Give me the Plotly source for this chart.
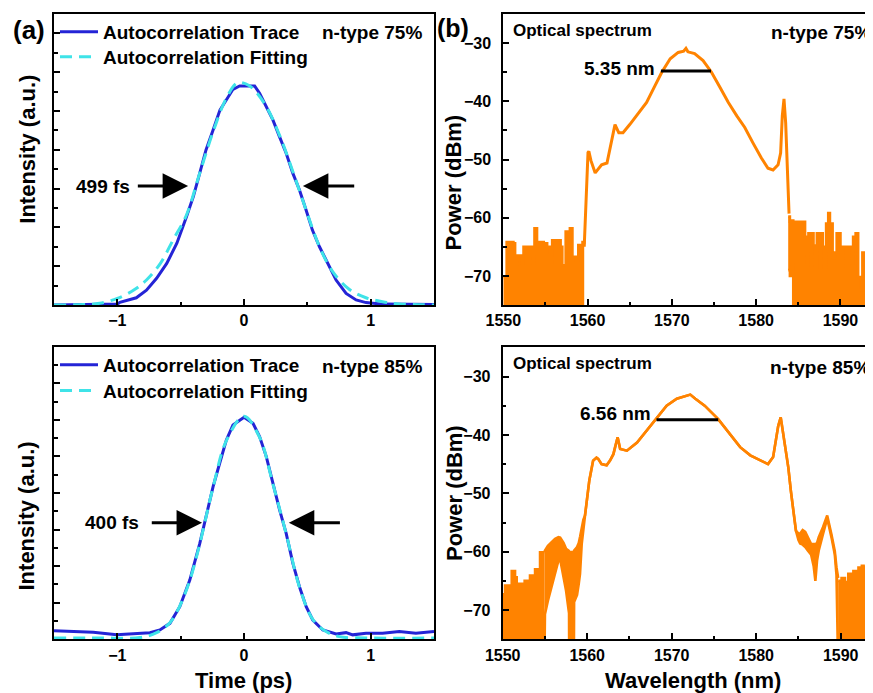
import plotly.graph_objects as go

# page offset: the html body adds an 8px margin around the figure
OFF = 8
W, H = 873 - OFF, 693 - OFF
FONT = "Liberation Sans, Arial, sans-serif"
BLUE = "#2424D6"
CYAN = "#3FE3E8"
ORANGE = "#FF8300"

# ---------------- Autocorrelation, n-type 75% ----------------
t_trace75 = [-1.5, -1.0, -0.98, -0.85, -0.77, -0.69, -0.61, -0.53, -0.454, -0.40, -0.35, -0.30,
             -0.244, -0.19, -0.14, -0.087, -0.034, 0.084, 0.123, 0.176, 0.228, 0.28, 0.333,
             0.386, 0.438, 0.49, 0.54, 0.596, 0.675, 0.727, 0.806, 0.885, 0.963, 1.094, 1.5]
i_trace75 = [0.0, 0.004, 0.012, 0.033, 0.068, 0.122, 0.19, 0.282, 0.403, 0.495, 0.601, 0.708,
             0.799, 0.89, 0.936, 0.985, 1.0, 1.0, 0.967, 0.906, 0.845, 0.769, 0.693,
             0.601, 0.525, 0.434, 0.342, 0.266, 0.175, 0.114, 0.053, 0.023, 0.011, 0.004, 0.002]
t_fit75 = [-1.5, -1.27, -1.14, -1.0, -0.87, -0.77, -0.66, -0.56, -0.454, -0.35, -0.244, -0.14,
           -0.052, 0.018, 0.07, 0.176, 0.28, 0.386, 0.49, 0.596, 0.70, 0.83, 0.963, 1.094,
           1.226, 1.5]
i_fit75 = [0.0, 0.002, 0.008, 0.03, 0.068, 0.114, 0.19, 0.297, 0.411, 0.601, 0.791, 0.944,
           1.015, 1.009, 0.989, 0.906, 0.776, 0.609, 0.434, 0.266, 0.152, 0.072, 0.033, 0.015,
           0.005, 0.0]

# ---------------- Autocorrelation, n-type 85% ----------------
t_trace85 = [-1.5, -1.35, -1.19, -1.005, -0.874, -0.743, -0.664, -0.585, -0.507, -0.428, -0.349,
             -0.297, -0.244, -0.192, -0.139, -0.087, 0.0, 0.071, 0.123, 0.176, 0.228, 0.281,
             0.333, 0.386, 0.438, 0.491, 0.543, 0.622, 0.727, 0.806, 0.858, 0.963, 1.094,
             1.226, 1.357, 1.5]
i_trace85 = [0.039, 0.035, 0.032, 0.021, 0.024, 0.030, 0.042, 0.072, 0.147, 0.267, 0.432,
             0.553, 0.688, 0.793, 0.898, 0.965, 1.0, 0.973, 0.913, 0.823, 0.703, 0.583,
             0.477, 0.342, 0.237, 0.147, 0.087, 0.042, 0.024, 0.030, 0.020, 0.027, 0.027,
             0.035, 0.027, 0.035]
t_fit85 = [-1.5, -1.136, -0.82, -0.69, -0.585, -0.507, -0.428, -0.349, -0.244, -0.139, 0.0,
           0.123, 0.228, 0.333, 0.438, 0.543, 0.648, 0.753, 0.963, 1.5]
i_fit85 = [0.006, 0.006, 0.008, 0.03, 0.075, 0.15, 0.265, 0.43, 0.685, 0.895, 1.005,
           0.91, 0.70, 0.475, 0.235, 0.09, 0.035, 0.012, 0.006, 0.006]

# ---------------- Optical spectrum, n-type 75% ----------------
NOISE_FLOOR = -80.0  # detector floor, below the visible axis range
wl_noiseL75 = [1550.0, 1550.4, 1551.2, 1551.4, 1551.6, 1552.1, 1552.2, 1552.4, 1553.4, 1553.5,
               1553.7, 1554.0, 1554.8, 1555.2, 1555.5, 1555.8, 1556.4, 1556.8, 1557.0, 1557.4,
               1557.9, 1558.2, 1558.6, 1558.9, 1559.4, 1559.6]
p_noiseL75 = [-70.2, -64.2, -64.4, -72.2, -66.5, -66.5, -67.9, -65.0, -65.0, -67.9,
              -61.8, -64.2, -64.4, -65.0, -67.9, -63.9, -63.9, -65.0, -68.2, -62.4,
              -61.8, -66.7, -67.3, -64.7, -64.2, -64.5]
wl_main75 = [1559.6, 1559.75, 1559.9, 1560.05, 1560.15, 1560.4, 1560.9, 1561.3, 1561.66, 1562.3,
             1562.85, 1563.25, 1563.7, 1564.2, 1565.0, 1566.0, 1567.0, 1568.0, 1568.8, 1569.8,
             1570.75, 1571.4, 1571.67, 1571.9, 1572.7, 1573.7, 1574.7, 1575.7, 1576.7, 1577.7,
             1578.65, 1579.6, 1580.6, 1581.4, 1582.0, 1582.6, 1582.9, 1583.1, 1583.3, 1583.5,
             1583.7, 1583.9]
p_main75 = [-65.0, -60.0, -52.0, -48.8, -48.6, -50.2, -52.3, -51.5, -50.9, -50.6,
            -46.6, -44.0, -45.4, -45.4, -44.0, -42.2, -40.2, -37.3, -35.0, -32.7,
            -31.6, -31.4, -30.9, -31.5, -31.8, -33.0, -35.0, -37.6, -40.2, -42.5,
            -44.5, -47.1, -49.7, -51.5, -51.8, -50.9, -48.9, -42.5, -39.6, -43.7,
            -51.2, -59.3]
wl_noiseR75 = [1583.8, 1584.0, 1584.2, 1584.4, 1584.6, 1585.8, 1586.0, 1586.2, 1586.4, 1586.8,
               1587.0, 1587.2, 1587.6, 1587.9, 1588.0, 1588.3, 1588.55, 1588.75, 1589.07, 1589.35,
               1589.55, 1589.74, 1590.0, 1590.3, 1590.9, 1591.3, 1591.5, 1591.8, 1592.1, 1592.4,
               1592.6, 1593.1, 1593.5, 1593.7, 1594.0]
p_noiseR75_hi = [-59.8, -60.7, -60.5, -60.7, -60.7, -63.3, -68.5, -62.7, -62.7, -64.8,
                 -68.5, -62.7, -62.7, -65.0, -68.5, -61.0, -59.2, -61.0, -67.0, -66.0,
                 -62.7, -62.7, -68.4, -65.0, -65.0, -68.0, -63.3, -62.7, -70.2, -72.5,
                 -66.0, -66.3, -71.3, -66.0, -66.0]
p_noiseR75_lo = [-69.0, -70.0, -68.0] + [NOISE_FLOOR] * 32
fwhm75_x = [1568.7, 1574.64]
fwhm75_y = [-34.8, -34.8]

# ---------------- Optical spectrum, n-type 85% ----------------
wl_noiseL85 = [1550.0, 1550.28, 1551.07, 1551.46, 1551.66, 1552.05, 1552.6, 1553.23, 1553.43,
               1553.83, 1554.02, 1554.42, 1554.62, 1554.93]
p_noiseL85 = [-67.3, -65.8, -63.3, -64.4, -65.5, -65.5, -65.0, -64.1, -64.1,
              -63.0, -63.0, -60.1, -60.1, -60.1]
wl_main85 = [1554.93, 1555.0, 1555.35, 1555.75, 1556.2, 1556.6, 1556.8, 1557.2, 1557.5, 1557.8,
             1557.85, 1557.87, 1558.42, 1558.45, 1558.8, 1559.0, 1559.15, 1559.35, 1559.55,
             1559.74, 1560.25, 1560.7, 1561.1, 1561.3, 1561.7, 1562.3, 1562.7, 1563.1, 1563.3,
             1563.6, 1563.9, 1564.7, 1565.9, 1567.0, 1568.2, 1569.4, 1570.6, 1571.8, 1572.2,
             1572.8, 1573.9, 1575.5, 1576.9, 1578.1, 1579.3, 1580.5, 1581.4, 1582.0, 1582.3,
             1582.6, 1582.9, 1583.4, 1583.8, 1584.1, 1584.4, 1584.7, 1585.0, 1585.2, 1585.5,
             1585.8, 1586.1, 1586.5, 1586.8, 1587.0, 1587.2, 1587.4, 1587.9, 1588.4, 1588.9,
             1589.3, 1589.5, 1589.7]
p_main85_hi = [-60.1, -59.8, -59.0, -58.5, -57.8, -57.5, -57.6, -58.5, -59.5, -59.8,
               -60.0, -60.0, -60.1, -59.8, -59.2, -58.5, -57.5, -55.8, -54.5,
               -53.8, -47.8, -44.4, -43.9, -44.1, -45.0, -45.2, -44.4, -43.3, -42.1,
               -40.4, -42.4, -42.7, -41.3, -39.3, -37.3, -35.0, -33.8, -33.3, -33.1,
               -33.8, -35.0, -37.3, -39.8, -42.1, -43.5, -44.4, -45.0, -43.8, -41.5,
               -38.5, -37.0, -41.5, -45.6, -49.6, -53.0, -56.4, -56.9, -56.9, -56.3,
               -56.6, -57.5, -58.7, -58.7, -58.7, -58.5, -57.5, -55.8, -53.8, -57.0,
               -59.9, -62.7, -64.5]
p_main85_lo = [-80.0, -70.7, -68.4, -66.1, -63.8, -61.5, -61.3, -64.1, -66.7, -70.0,
               -70.5, -80.0, -80.0, -68.6, -67.4, -65.5, -63.8, -58.7, -55.6,
               -53.8, -47.8, -44.4, -43.9, -44.1, -45.0, -45.2, -44.4, -43.3, -42.1,
               -40.4, -42.4, -42.7, -41.3, -39.3, -37.3, -35.0, -33.8, -33.3, -33.1,
               -33.8, -35.0, -37.3, -39.8, -42.1, -43.5, -44.4, -45.0, -43.8, -41.5,
               -38.5, -37.0, -41.5, -45.6, -49.6, -53.0, -56.4, -58.0, -58.6, -58.8,
               -59.2, -59.8, -60.5, -62.5, -65.0, -61.5, -59.8, -57.0, -54.3, -57.5,
               -60.5, -64.0, -80.0]
wl_noiseR85 = [1589.7, 1590.1, 1590.5, 1590.9, 1591.2, 1591.5, 1591.8, 1592.1, 1592.5, 1592.7,
               1592.9, 1593.1, 1593.3, 1593.6, 1594.0]
p_noiseR85 = [-65.0, -64.5, -65.2, -63.8, -64.9, -63.3, -64.2, -62.7, -62.4, -62.6,
              -67.8, -62.6, -62.4, -62.8, -62.8]
fwhm85_x = [1568.2, 1575.5]
fwhm85_y = [-37.4, -37.4]


def xp(px):
    return (px - OFF) / W


def yp(py):
    return 1 - (py - OFF) / H


fig = go.Figure()


def band(x, hi, lo, shape, xa, ya):
    fig.add_trace(go.Scatter(x=x, y=lo, mode="lines", xaxis=xa, yaxis=ya, showlegend=False,
                             hoverinfo="skip", line=dict(color=ORANGE, width=2.6, shape=shape)))
    fig.add_trace(go.Scatter(x=x, y=hi, mode="lines", xaxis=xa, yaxis=ya, showlegend=False,
                             fill="tonexty", fillcolor=ORANGE,
                             line=dict(color=ORANGE, width=2.6, shape=shape)))


# autocorrelation panels
fig.add_trace(go.Scatter(x=t_trace75, y=i_trace75, mode="lines", name="Autocorrelation Trace",
                         line=dict(color=BLUE, width=3), xaxis="x", yaxis="y", legend="legend"))
fig.add_trace(go.Scatter(x=t_fit75, y=i_fit75, mode="lines", name="Autocorrelation Fitting",
                         line=dict(color=CYAN, width=3, dash="12px,7px"), line_shape="spline",
                         xaxis="x", yaxis="y", legend="legend2"))
fig.add_trace(go.Scatter(x=t_trace85, y=i_trace85, mode="lines", name="Autocorrelation Trace",
                         line=dict(color=BLUE, width=3), xaxis="x3", yaxis="y3", legend="legend3"))
fig.add_trace(go.Scatter(x=t_fit85, y=i_fit85, mode="lines", name="Autocorrelation Fitting",
                         line=dict(color=CYAN, width=3, dash="12px,7px"), line_shape="spline",
                         xaxis="x3", yaxis="y3", legend="legend4"))

# spectra
band(wl_noiseL75, p_noiseL75, [NOISE_FLOOR] * len(wl_noiseL75), "hv", "x2", "y2")
fig.add_trace(go.Scatter(x=wl_main75, y=p_main75, mode="lines", xaxis="x2", yaxis="y2",
                         showlegend=False, line=dict(color=ORANGE, width=3)))
band(wl_noiseR75, p_noiseR75_hi, p_noiseR75_lo, "hv", "x2", "y2")
fig.add_trace(go.Scatter(x=fwhm75_x, y=fwhm75_y, mode="lines", xaxis="x2", yaxis="y2",
                         showlegend=False, line=dict(color="black", width=3)))

band(wl_noiseL85, p_noiseL85, [NOISE_FLOOR] * len(wl_noiseL85), "hv", "x4", "y4")
band(wl_main85, p_main85_hi, p_main85_lo, "linear", "x4", "y4")
band(wl_noiseR85, p_noiseR85, [NOISE_FLOOR] * len(wl_noiseR85), "hv", "x4", "y4")
fig.add_trace(go.Scatter(x=fwhm85_x, y=fwhm85_y, mode="lines", xaxis="x4", yaxis="y4",
                         showlegend=False, line=dict(color="black", width=3)))

tickfont = dict(family=FONT, size=16, color="black", weight="bold")
common = dict(showgrid=False, zeroline=False, showline=True, linecolor="black", linewidth=2,
              ticks="inside", ticklen=6, tickwidth=1.8, tickcolor="black", tickfont=tickfont,
              automargin=False)


def minor(d):
    return dict(ticks="inside", ticklen=3.5, tickwidth=1.5, tickcolor="black", dtick=d,
                showgrid=False)


top_dom = [yp(305), yp(14)]
bot_dom = [yp(639.3), yp(346.7)]
left_dom = [xp(54), xp(434)]

fig.update_layout(
    width=W, height=H, margin=dict(l=0, r=0, t=0, b=0, autoexpand=False),
    paper_bgcolor="white", plot_bgcolor="white",
    font=dict(family=FONT, color="black"),
    xaxis=dict(domain=left_dom, anchor="y", range=[-1.5, 1.5], dtick=1, tick0=0, mirror=True,
               minor=minor(0.5), **common),
    yaxis=dict(domain=top_dom, anchor="x", range=[0, 1.3288], tick0=0, dtick=0.1772,
               showticklabels=False, mirror=True, minor=minor(0.0886), **common),
    xaxis2=dict(domain=[xp(503.3), 1.0], anchor="y2", range=[1550, 1593.86], dtick=10,
                tick0=1550, mirror=True, minor=minor(5), **common),
    yaxis2=dict(domain=top_dom, anchor="x2", range=[-75, -25], dtick=10, tick0=-30,
                mirror=False, minor=minor(5), ticklabelstandoff=7, **common),
    xaxis3=dict(domain=left_dom, anchor="y3", range=[-1.5, 1.5], dtick=1, tick0=0, mirror=True,
                minor=minor(0.5), **common),
    yaxis3=dict(domain=bot_dom, anchor="x3", range=[0, 1.318], tick0=0, dtick=0.1647,
                showticklabels=False, mirror=True, minor=minor(0.08235), **common),
    xaxis4=dict(domain=[xp(502.7), 1.0], anchor="y4", range=[1550, 1593.82], dtick=10,
                tick0=1550, mirror=True, minor=minor(5), **common),
    yaxis4=dict(domain=[yp(639.3), yp(347.3)], anchor="x4", range=[-75, -25], dtick=10,
                tick0=-30, mirror=False, minor=minor(5), ticklabelstandoff=7, **common),
)

legfont = dict(family=FONT, size=19, color="black", weight="bold")
for name, py in (("legend", 32), ("legend2", 57), ("legend3", 365), ("legend4", 390.7)):
    fig.update_layout({name: dict(x=xp(55), y=yp(py), xanchor="left", yanchor="middle",
                                  bgcolor="rgba(0,0,0,0)", borderwidth=0, font=legfont,
                                  itemwidth=38, tracegroupgap=0)})

ann = []


def text(s, px, py, size=19, anchor="center", weight="bold", angle=0):
    ann.append(dict(text=s, x=xp(px), y=yp(py), xref="paper", yref="paper", showarrow=False,
                    xanchor=anchor, yanchor="middle", textangle=angle,
                    font=dict(family=FONT, size=size, color="black", weight=weight)))


text("(a)", 29, 30, size=26)
text("(b)", 453, 28, size=25)
text("n-type 75%", 320, 33, anchor="left")
text("n-type 85%", 320, 366, anchor="left")
text("Optical spectrum", 511, 30, size=17, anchor="left")
text("Optical spectrum", 511, 363.5, size=17, anchor="left")
text("n-type 75%", 769, 33, anchor="left")
text("n-type 85%", 768, 367.5, anchor="left")
text("5.35 nm", 657, 68, anchor="right")
text("6.56 nm", 653, 413, anchor="right")
text("499 fs", 102.5, 186)
text("400 fs", 111.5, 522.7)
text("Intensity (a.u.)", 26.7, 149, size=22, angle=-90)
text("Intensity (a.u.)", 26.7, 515.8, size=22, angle=-90)
text("Power (dBm)", 452.5, 183, size=22, angle=-90)
text("Power (dBm)", 454, 493, size=22, angle=-90)
text("Time (ps)", 244, 680, size=22)
text("Wavelength (nm)", 692.5, 680, size=22)


def arrow(xh, xt, y, xa, ya):
    ann.append(dict(x=xh, y=y, ax=xt, ay=y, xref=xa, yref=ya, axref=xa, ayref=ya, text="",
                    showarrow=True, arrowhead=2, arrowsize=1.7, arrowwidth=3,
                    arrowcolor="black", standoff=0))


arrow(-0.441, -0.850, 0.543, "x", "y")
arrow(0.465, 0.882, 0.543, "x", "y")
arrow(-0.331, -0.740, 0.525, "x3", "y3")
arrow(0.354, 0.769, 0.525, "x3", "y3")

fig.update_layout(annotations=ann)

fig.write_html("out.html")
